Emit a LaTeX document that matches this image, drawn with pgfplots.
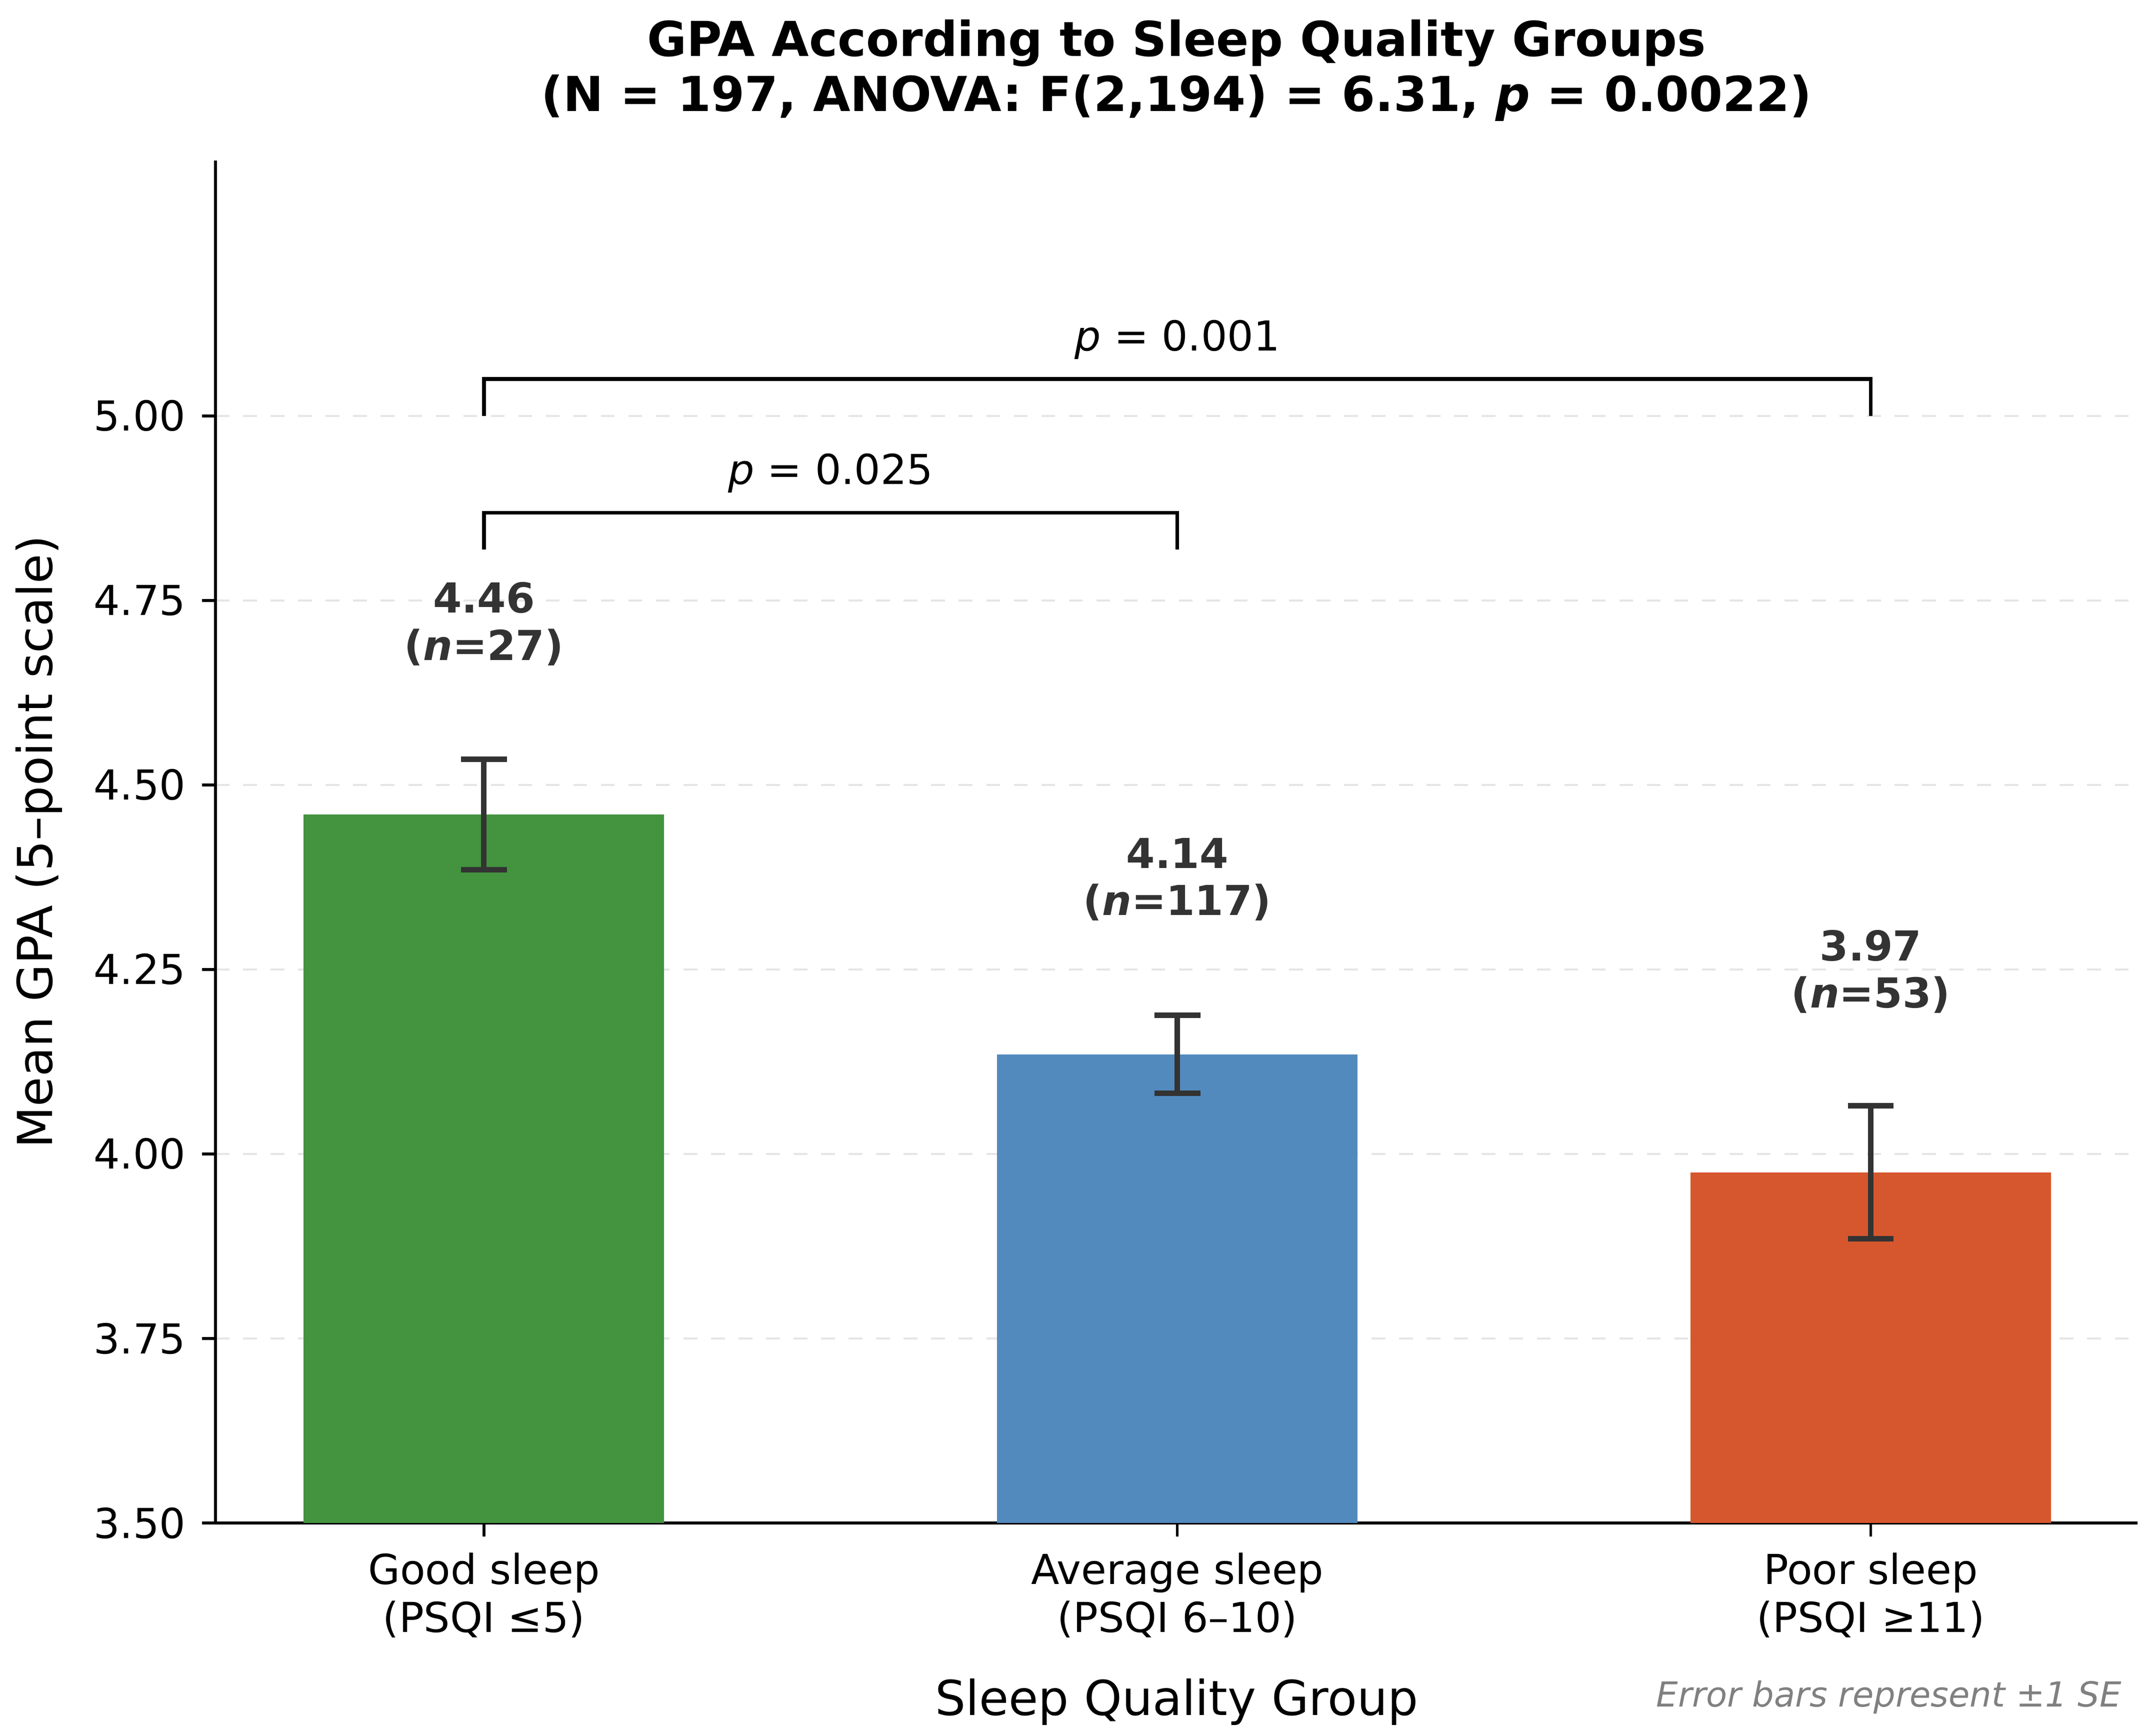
\documentclass[border=0pt]{standalone}
\usepackage{pgfplots}
\pgfplotsset{compat=1.18}
\usepackage{fontspec}
\setmainfont{DejaVu Sans}
\definecolor{cg}{RGB}{67,147,63}
\definecolor{cb}{RGB}{82,138,190}
\definecolor{cr}{RGB}{214,87,46}
\definecolor{eb}{RGB}{51,51,51}
\begin{document}
\begin{tikzpicture}
\useasboundingbox (-47pt,-46pt) rectangle (423pt,332pt);
\begin{axis}[
  scale only axis, width=419pt, height=297pt,
  xmin=-0.387, xmax=2.385, ymin=3.5, ymax=5.346,
  axis x line*=bottom, axis y line*=left,
  axis line style={line width=0.6pt},
  xtick={0,1,2},
  xticklabels={Good sleep\\(PSQI ≤5), Average sleep\\(PSQI 6–10), Poor sleep\\(PSQI ≥11)},
  xticklabel style={align=center, font=\fontsize{9}{10.5}\selectfont},
  ytick={3.5,3.75,4,4.25,4.5,4.75,5},
  yticklabel style={font=\fontsize{9}{10}\selectfont, /pgf/number format/fixed, /pgf/number format/fixed zerofill, /pgf/number format/precision=2},
  /pgf/number format/assume math mode=true,
  tick align=outside, tick style={black, line width=0.6pt}, major tick length=3pt,
  ymajorgrids, grid style={dashed, gray!20, line width=0.4pt},
  xlabel={Sleep Quality Group}, ylabel={Mean GPA (5–point scale)},
  label style={font=\fontsize{10.5}{12}\selectfont},
  xlabel style={yshift=-2pt},
  title={\textbf{GPA According to Sleep Quality Groups}\\\textbf{(N = 197, ANOVA: F(2,194) = 6.31, \textit{p} = 0.0022)}},
  title style={align=center, font=\fontsize{10.5}{12}\selectfont, yshift=-1pt},
  clip=false,
]
\pgfplotsset{myerr/.style={error bars/.cd, y dir=both, y explicit,
  error bar style={eb, line width=1.2pt},
  error mark options={rotate=90, mark size=5pt, eb, line width=1.2pt}}}
\addplot[ybar, bar width=0.52, bar shift=0, fill=cg, draw=none, myerr] coordinates {(0,4.46) +- (0,0.075)};
\addplot[ybar, bar width=0.52, bar shift=0, fill=cb, draw=none, myerr] coordinates {(1,4.135) +- (0,0.053)};
\addplot[ybar, bar width=0.52, bar shift=0, fill=cr, draw=none, myerr] coordinates {(2,3.975) +- (0,0.09)};
\addplot[black, line width=0.8pt] coordinates {(0,5.0) (0,5.05) (2,5.05) (2,5.0)};
\addplot[black, line width=0.8pt] coordinates {(0,4.819) (0,4.869) (1,4.869) (1,4.819)};
\node[anchor=south, font=\fontsize{9}{10}\selectfont] at (axis cs:1,5.055) {\textit{p} = 0.001};
\node[anchor=south, font=\fontsize{9}{10}\selectfont] at (axis cs:0.5,4.874) {\textit{p} = 0.025};
\node[align=center, font=\bfseries\fontsize{9}{10.3}\selectfont, text=eb] at (axis cs:0,4.718) {4.46\\(\textit{n}=27)};
\node[align=center, font=\bfseries\fontsize{9}{10.3}\selectfont, text=eb] at (axis cs:1,4.372) {4.14\\(\textit{n}=117)};
\node[align=center, font=\bfseries\fontsize{9}{10.3}\selectfont, text=eb] at (axis cs:2,4.247) {3.97\\(\textit{n}=53)};
\node[anchor=east, font=\itshape\fontsize{7.5}{8}\selectfont, text=gray] at (rel axis cs:1,0) [yshift=-38pt] {Error bars represent ±1 SE};
\end{axis}
\end{tikzpicture}
\end{document}
